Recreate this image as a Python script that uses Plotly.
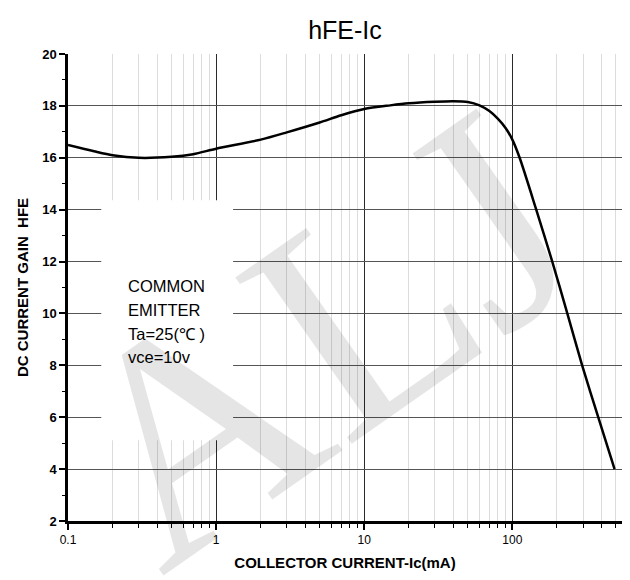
import plotly.graph_objects as go
import numpy as np

# Data
ic_ma = [0.1, 0.15, 0.2, 0.3, 0.5, 0.7, 1, 2, 3, 5, 7, 10, 15, 20, 30, 40, 50, 60, 70, 80, 90, 100, 112, 145, 186, 235, 296, 380, 490]
hfe = [16.49, 16.25, 16.1, 16.0, 16.04, 16.14, 16.35, 16.7, 16.98, 17.36, 17.64, 17.88, 18.02, 18.1, 18.16, 18.18, 18.15, 18.02, 17.8, 17.5, 17.15, 16.7, 16.0, 14.0, 12.0, 10.0, 8.0, 6.0, 4.0]

y_ticks = [2, 4, 6, 8, 10, 12, 14, 16, 18, 20]
x_ticks = [0.1, 1, 10, 100]
x_tick_labels = ["0.1", "1", "10", "100"]

title_text = "hFE-Ic"
x_title = "COLLECTOR CURRENT-Ic(mA)"
y_title = "DC CURRENT GAIN  HFE"
note_lines = ["COMMON", "EMITTER", "Ta=25(℃ )", "vce=10v"]
watermark = "ALJ"

fig = go.Figure()
fig.add_trace(go.Scatter(x=ic_ma, y=hfe, mode="lines",
                         line=dict(color="black", width=2.5, shape="spline", smoothing=0.8),
                         showlegend=False, hoverinfo="skip"))

FONT = "Liberation Sans, Arial, sans-serif"

fig.update_layout(
    width=630, height=580,
    margin=dict(l=60, r=16, t=46, b=67),
    paper_bgcolor="white", plot_bgcolor="white",
    title=dict(text=title_text, x=(60 + 554 / 2) / 630, xanchor="center",
               y=1 - 22 / 580, yanchor="middle",
               font=dict(family=FONT, size=25, color="black")),
    font=dict(family=FONT, color="black"),
    xaxis=dict(type="log", range=[-1, np.log10(550)], automargin=False,
               tickvals=x_ticks, ticktext=x_tick_labels,
               ticks="outside", ticklen=6, tickwidth=1.5, tickcolor="black",
               tickfont=dict(family=FONT, size=12, color="black"),
               showline=True, linecolor="black", linewidth=2.5,
               showgrid=True, gridcolor="#2a2a2a", gridwidth=1,
               minor=dict(dtick="D1", showgrid=True, gridcolor="#dcdcdc", gridwidth=1.2,
                          ticks="outside", ticklen=4, tickcolor="black", tickwidth=1.2),
               zeroline=False,
               title=dict(text="<b>" + x_title + "</b>", standoff=12,
                          font=dict(family=FONT, size=15, color="black"))),
    yaxis=dict(range=[2, 20], tickvals=y_ticks, automargin=False,
               ticks="outside", ticklen=6, tickwidth=1.5, tickcolor="black",
               tickfont=dict(family=FONT, size=13, color="black", weight="bold"),
               showline=True, linecolor="black", linewidth=2.5,
               showgrid=True, gridcolor="#555555", gridwidth=1,
               minor=dict(dtick=1, showgrid=False, ticks="outside", ticklen=3,
                          tickcolor="black", tickwidth=1.2),
               zeroline=False,
               title=dict(text="<b>" + y_title + "</b>", standoff=10,
                          font=dict(family=FONT, size=15, color="black"))),
)

# white box behind the note (covers the grid there)
fig.add_shape(type="rect", xref="paper", yref="paper",
              x0=0.06, x1=0.298, y0=0.173, y1=0.687,
              fillcolor="white", line=dict(width=0), layer="above")

line_step = 23.8 / 467  # paper units per text line
for i, line in enumerate(note_lines):
    fig.add_annotation(text=line, xref="paper", yref="paper",
                       x=0.105, y=0.503 - i * line_step, xanchor="left", yanchor="middle",
                       align="left", showarrow=False,
                       font=dict(family=FONT, size=16.5, color="black"))

fig.add_annotation(text=watermark, xref="paper", yref="paper",
                   x=0.455, y=0.39, xanchor="center", yanchor="middle",
                   showarrow=False, textangle=-35,
                   font=dict(family="Liberation Serif, Times New Roman, serif", size=310,
                             color="rgba(0,0,0,0.10)"))

fig.write_html("out.html")
